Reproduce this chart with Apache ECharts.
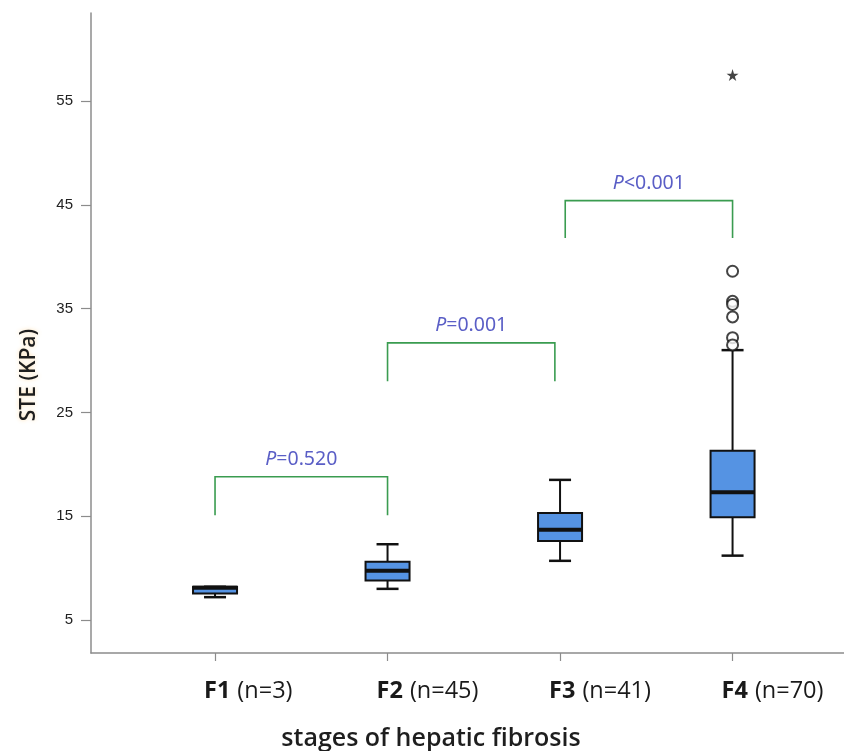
<!DOCTYPE html>
<html>
<head>
<meta charset="utf-8">
<script src="https://cdn.jsdelivr.net/npm/echarts@6/dist/echarts.min.js"></script>
<style>html,body{margin:0;padding:0;background:#fff}#c{width:844px;height:751px}</style>
</head>
<body>
<div id="c"></div>
<script>
const categories = ['F1', 'F2', 'F3', 'F4'];
const counts = [3, 45, 41, 70];
const boxMin = [7.2, 8.0, 10.7, 11.2];
const boxQ1 = [7.55, 8.8, 12.6, 14.9];
const boxMedian = [8.1, 9.75, 13.7, 17.3];
const boxQ3 = [8.2, 10.6, 15.3, 21.3];
const boxMax = [8.2, 12.3, 18.5, 31.0];
const outlierGroup = [3, 3, 3, 3, 3, 3];
const outlierValues = [38.6, 35.7, 35.4, 34.2, 32.2, 31.5];
const extremeGroup = [3];
const extremeValues = [57.5];
const yTickValues = [5, 15, 25, 35, 45, 55];
const xTickValues = [0, 1, 2, 3];
const bracketFrom = [0, 1, 2.03];
const bracketTo = [1, 1.97, 3];
const bracketTop = [18.8, 31.7, 45.4];
const bracketLegBottom = [15.1, 28.0, 41.8];
const pOperators = ['=0.520', '=0.001', '<0.001'];

const boxData = categories.map((c, i) => [i, boxMin[i], boxQ1[i], boxMedian[i], boxQ3[i], boxMax[i]]);
const outlierData = outlierValues.map((v, i) => [outlierGroup[i], v]);
const extremeData = extremeValues.map((v, i) => [extremeGroup[i], v]);
const bracketData = bracketFrom.map((f, i) => [f, bracketTo[i], bracketTop[i], bracketLegBottom[i], i]);

const chart = echarts.init(document.getElementById('c'), null, {renderer: 'canvas'});
const axisColor = '#8c8c8c';
const starPath = 'path://M50,0 L61.8,35.4 L100,35.4 L69.1,57.3 L80.9,92.7 L50,70.8 L19.1,92.7 L30.9,57.3 L0,35.4 L38.2,35.4 Z';

chart.setOption({
  animation: false,
  backgroundColor: '#ffffff',
  grid: {left: 91, top: 13, right: 0, bottom: 98, containLabel: false, outerBoundsMode: 'none'},
  xAxis: {
    type: 'value',
    min: -0.719,
    max: 3.646,
    name: 'stages of hepatic fibrosis',
    nameLocation: 'middle',
    nameGap: 73,
    nameTextStyle: {fontFamily: 'Open Sans', fontSize: 25, fontWeight: 600, color: '#1e1e1e', padding: [0, 73, 0, 0]},
    axisLine: {show: true, onZero: false, lineStyle: {color: axisColor, width: 1.5}},
    axisTick: {show: true, customValues: xTickValues, length: 8, lineStyle: {color: axisColor, width: 1.2}},
    splitLine: {show: false},
    axisLabel: {
      customValues: xTickValues,
      margin: 26,
      align: 'left',
      padding: [0, 0, 0, -11],
      formatter: function (v) {
        const i = Math.round(v);
        return '{b|' + categories[i] + '}{n|(n=' + counts[i] + ')}';
      },
      rich: {
        b: {fontFamily: 'Open Sans', fontSize: 23.5, fontWeight: 700, color: '#1a1a1a'},
        n: {fontFamily: 'Open Sans', fontSize: 23.5, fontWeight: 400, color: '#1a1a1a', padding: [0, 0, 0, 7]}
      }
    }
  },
  yAxis: {
    type: 'value',
    min: 1.82,
    max: 63.48,
    name: 'STE (KPa)',
    nameLocation: 'middle',
    nameGap: 51,
    nameRotate: 90,
    nameTextStyle: {fontFamily: 'Open Sans', fontSize: 21, fontWeight: 600, color: '#1e1e1e', padding: [0, 84, 0, 0],
      textShadowColor: 'rgba(255,190,90,0.45)', textShadowBlur: 4},
    axisLine: {show: true, onZero: false, lineStyle: {color: axisColor, width: 1.5}},
    axisTick: {show: true, customValues: yTickValues, length: 10, lineStyle: {color: axisColor, width: 1.2}},
    splitLine: {show: false},
    axisLabel: {
      customValues: yTickValues,
      margin: 18,
      fontFamily: 'Liberation Sans',
      fontSize: 15,
      color: '#222222'
    }
  },
  series: [
    {
      type: 'custom',
      name: 'box',
      data: boxData,
      encode: {x: 0, y: [1, 2, 3, 4, 5]},
      z: 3,
      renderItem: function (params, api) {
        const x = api.value(0);
        const pMin = api.coord([x, api.value(1)]);
        const pQ1 = api.coord([x, api.value(2)]);
        const pMed = api.coord([x, api.value(3)]);
        const pQ3 = api.coord([x, api.value(4)]);
        const pMax = api.coord([x, api.value(5)]);
        const cx = pMin[0];
        const halfW = 22, capHalf = 11;
        const stroke = '#111111';
        return {
          type: 'group',
          children: [
            {type: 'line', shape: {x1: cx, y1: pQ3[1], x2: cx, y2: pMax[1]}, style: {stroke: stroke, lineWidth: 2}},
            {type: 'line', shape: {x1: cx - capHalf, y1: pMax[1], x2: cx + capHalf, y2: pMax[1]}, style: {stroke: stroke, lineWidth: 2.5}},
            {type: 'line', shape: {x1: cx, y1: pQ1[1], x2: cx, y2: pMin[1]}, style: {stroke: stroke, lineWidth: 2}},
            {type: 'line', shape: {x1: cx - capHalf, y1: pMin[1], x2: cx + capHalf, y2: pMin[1]}, style: {stroke: stroke, lineWidth: 2.5}},
            {type: 'rect', shape: {x: cx - halfW, y: pQ3[1], width: 2 * halfW, height: pQ1[1] - pQ3[1]},
              style: {fill: '#5593e3', stroke: stroke, lineWidth: 2}},
            {type: 'line', shape: {x1: cx - halfW, y1: pMed[1], x2: cx + halfW, y2: pMed[1]}, style: {stroke: stroke, lineWidth: 4}}
          ]
        };
      }
    },
    {
      type: 'scatter',
      name: 'outliers',
      data: outlierData,
      symbol: 'circle',
      symbolSize: 11,
      z: 4,
      itemStyle: {color: '#ffffff', borderColor: '#151515', borderWidth: 2}
    },
    {
      type: 'scatter',
      name: 'extremes',
      data: extremeData,
      symbol: starPath,
      symbolSize: 12,
      z: 4,
      itemStyle: {color: '#151515'}
    },
    {
      type: 'custom',
      name: 'brackets',
      data: bracketData,
      encode: {x: [0, 1], y: [2, 3]},
      z: 2,
      renderItem: function (params, api) {
        const a = api.coord([api.value(0), api.value(2)]);
        const b = api.coord([api.value(1), api.value(2)]);
        const aB = api.coord([api.value(0), api.value(3)]);
        const bB = api.coord([api.value(1), api.value(3)]);
        const idx = api.value(4);
        return {
          type: 'group',
          children: [
            {type: 'polyline', shape: {points: [aB, a, b, bB]}, style: {stroke: '#3a9c50', lineWidth: 1.6, fill: null}},
            {type: 'text', x: (a[0] + b[0]) / 2, y: a[1] - 17,
              style: {
                text: '{p|P}{v|' + pOperators[idx] + '}',
                align: 'center', verticalAlign: 'middle',
                rich: {
                  p: {fontFamily: 'Noto Sans', fontStyle: 'italic', fontSize: 19.5, fill: '#5a5ec6', color: '#5a5ec6'},
                  v: {fontFamily: 'Noto Sans', fontSize: 19.5, fill: '#5a5ec6', color: '#5a5ec6'}
                }
              }}
          ]
        };
      }
    }
  ]
});
</script>
</body>
</html>
